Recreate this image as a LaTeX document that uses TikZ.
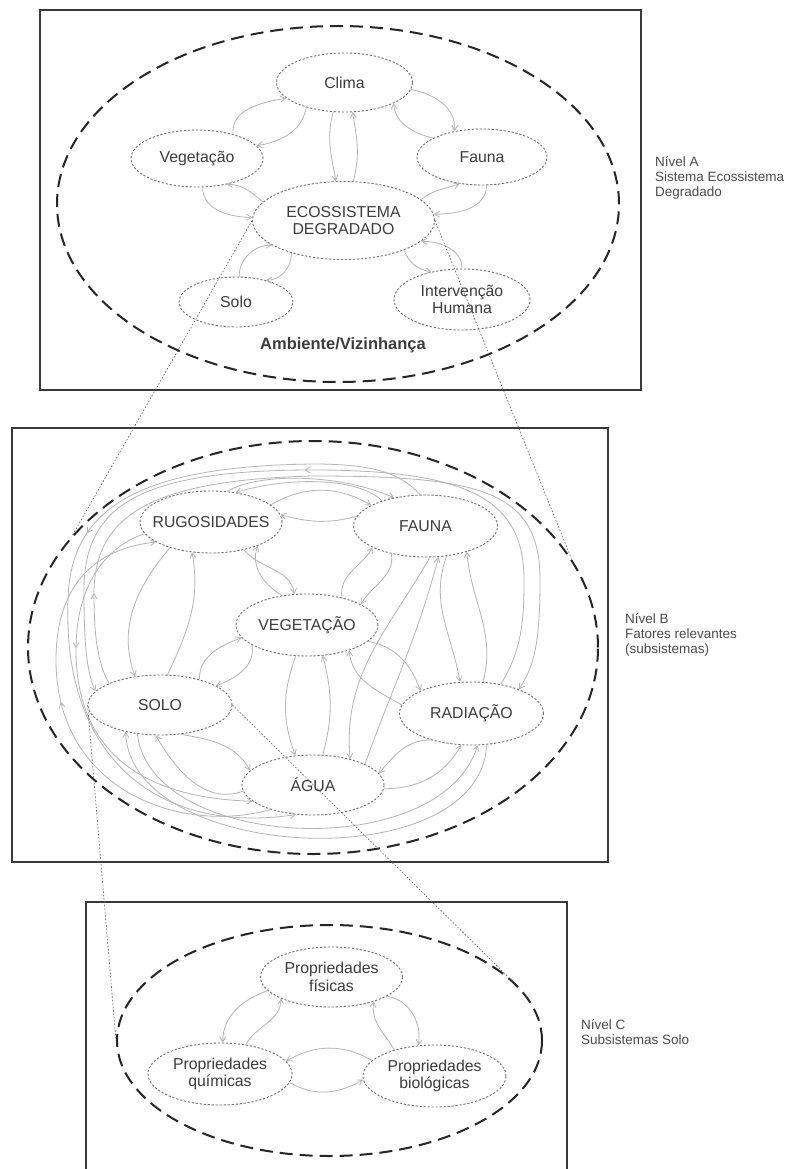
\documentclass[tikz,border=0pt]{standalone}
\usepackage{fontspec}
\setmainfont{Liberation Sans}
\usetikzlibrary{shapes.geometric,arrows.meta,decorations.markings}
\definecolor{boxc}{HTML}{3A3A3A}
\definecolor{ellc}{HTML}{262626}
\definecolor{ndc}{HTML}{6E6E6E}
\definecolor{arrc}{HTML}{B4B4B4}
\definecolor{txtc}{HTML}{3C3C3C}
\definecolor{sidec}{HTML}{4A4A4A}
\definecolor{zoomc}{HTML}{5A5A5A}
\begin{document}
\begin{tikzpicture}[x=1pt,y=1pt,
  nd/.style={ellipse, draw=ndc, line width=0.9pt, dash pattern=on 2.2pt off 1.8pt, inner sep=0pt},
  ndtxt/.style={text=txtc, font=\fontsize{15.8}{17.6}\selectfont, align=center, inner sep=0pt},
  bigell/.style={ellipse, draw=ellc, line width=2pt, dash pattern=on 13pt off 7pt, inner sep=0pt},
  boxframe/.style={draw=boxc, line width=1.6pt},
  arr/.style={draw=arrc, line width=0.8pt, -{Straight Barb[length=5pt,width=6pt]}},
  midarr/.style={postaction={decorate}, decoration={markings, mark=at position #1 with {\arrow{Straight Barb[length=5pt,width=6pt]}}}},
  zoomline/.style={draw=zoomc, line width=0.6pt, dash pattern=on 1.6pt off 1.8pt},
  side/.style={anchor=west, align=left, text=sidec, inner sep=0pt, font=\fontsize{13.5}{15}\selectfont}
]
\useasboundingbox (0,0) rectangle (796,-1169);
\fill[white] (0,0) rectangle (796,-1169);

% ---------- frames ----------
\draw[boxframe] (40,-10) rectangle (641,-390);
\draw[boxframe] (12,-428) rectangle (608,-862);
\draw[boxframe] (86,-902) rectangle (567,-1190);

% ---------- big dashed ellipses ----------
\node[bigell, minimum width=562pt, minimum height=356pt] (E1) at (338,-204) {};
\node[bigell, minimum width=570pt, minimum height=413pt] (E2) at (313,-647.5) {};
\node[bigell, minimum width=425pt, minimum height=231pt] (E3) at (329.5,-1040.5) {};

% ---------- level A ----------
\node[nd, minimum width=136pt, minimum height=59pt, label={[ndtxt]center:Clima}] (clima) at (344.5,-82.5) {};
\node[nd, minimum width=132pt, minimum height=57pt, label={[ndtxt]center:Vegetação}] (veg) at (197,-158.5) {};
\node[nd, minimum width=130pt, minimum height=56pt, label={[ndtxt]center:Fauna}] (fau) at (482,-157) {};
\node[nd, minimum width=182pt, minimum height=78pt, label={[ndtxt]center:ECOSSISTEMA\\DEGRADADO}] (eco) at (343.5,-220.5) {};
\node[nd, minimum width=114pt, minimum height=50pt, label={[ndtxt]center:Solo}] (solo) at (236,-302) {};
\node[nd, minimum width=136pt, minimum height=61pt, label={[ndtxt]center:Intervenção\\Humana}] (int) at (462,-299.5) {};
\node[text=txtc, font=\bfseries\fontsize{16.5}{18}\selectfont] (amb) at (343,-345) {Ambiente/Vizinhança};

\draw[arr] (veg.34) to[out=95,in=190] (clima.195);
\draw[arr] (clima.213) to[out=260,in=10] (veg.12);
\draw[arr] (clima.249) to[out=255,in=100] (eco.101);
\draw[arr] (eco.76) to[out=75,in=-80] (clima.285);
\draw[arr] (clima.354) to[out=-10,in=85] (fau.137);
\draw[arr] (fau.159) to[out=165,in=-85] (clima.337);
\draw[arr] (veg.281) to[out=-90,in=180] (eco.178);
\draw[arr] (eco.167) to[out=140,in=0] (veg.319);
\draw[arr] (eco.15) to[out=40,in=200] (fau.230);
\draw[arr] (fau.279) to[out=-90,in=0] (eco.4);
\draw[arr] (solo.83) to[out=90,in=180] (eco.199);
\draw[arr] (eco.212) to[out=-90,in=0] (solo.36);
\draw[arr] (eco.334) to[out=-70,in=170] (int.138);
\draw[arr] (int.90) to[out=90,in=0] (eco.345);

% ---------- level B ----------
\node[nd, minimum width=142pt, minimum height=62pt, label={[ndtxt]center:RUGOSIDADES}] (rug) at (211,-522) {};
\node[nd, minimum width=144pt, minimum height=62pt, label={[ndtxt]center:FAUNA}] (fau2) at (425.5,-526) {};
\node[nd, minimum width=142pt, minimum height=62pt, label={[ndtxt]center:VEGETAÇÃO}] (veg2) at (307,-625) {};
\node[nd, minimum width=144pt, minimum height=60pt, label={[ndtxt]center:SOLO}] (sol) at (160,-705) {};
\node[nd, minimum width=144pt, minimum height=63pt, label={[ndtxt]center:RADIAÇÃO}] (rad) at (471.5,-713.5) {};
\node[nd, minimum width=142pt, minimum height=60pt, label={[ndtxt]center:ÁGUA}] (agu) at (313,-785) {};

\draw[arr] (rug.16) to[out=30,in=150] (fau2.159);
\draw[arr] (fau2.172) to[out=195,in=-15] (rug.6);
\draw[arr] (rug.320) to[out=-50,in=100] (veg2.112);
\draw[arr] (veg2.130) to[out=150,in=250] (rug.333);
\draw[arr] (veg2.38) to[out=100,in=240] (fau2.202);
\draw[arr] (fau2.219) to[out=-80,in=60] (veg2.21);
\draw[arr] (rug.212) to[out=230,in=110] (sol.131);
\draw[arr] (sol.76) to[out=65,in=-80] (rug.238);
\draw[arr] (sol.33) to[out=90,in=200] (veg2.191);
\draw[arr] (veg2.200) to[out=-80,in=20] (sol.19);
\draw[arr] (veg2.250) to[out=250,in=110] (agu.121);
\draw[arr] (agu.72) to[out=75,in=-75] (veg2.297);
\draw[arr] (veg2.345) to[out=-10,in=110] (rad.156);
\draw[arr] (rad.173) to[out=150,in=-85] (veg2.329);
\draw[arr] (fau2.305) to[out=250,in=100] (rad.110);
\draw[arr] (rad.70) to[out=75,in=-85] (fau2.328);
\draw[arr] (fau2.278) to[out=240,in=95] (agu.35);
\draw[arr] (agu.22) to[out=70,in=255] (fau2.293);
\draw[arr] (sol.305) to[out=-10,in=120] (agu.167);
\draw[arr] (agu.185) to[out=200,in=-60] (sol.262);
\draw[arr] (rad.213) to[out=180,in=50] (agu.10);
\draw[arr] (agu.357) to[out=0,in=240] (rad.252);
% long connectors under AGUA
\draw[arr] (sol.232) .. controls (150,-850) and (440,-865) .. (rad.281);
\draw[arr] (rad.296) .. controls (480,-880) and (130,-862) .. (sol.218);
% upper arcs RUG - FAUNA
\draw[arr] (fau2.150) .. controls (360,-478) and (290,-476) .. (rug.50);
\draw[arr] (rug.62) .. controls (260,-472) and (340,-474) .. (fau2.138);
% outer loops
\draw[arr, midarr=0.12] (sol.157) .. controls (96,-660) and (94,-630) .. (94,-590) .. controls (96,-515) and (152,-480) .. (313,-476) .. controls (480,-476) and (540,-490) .. (540,-580) .. controls (540,-640) and (535,-665) .. (rad.27);
\draw[arr, midarr=0.5] (rad.45) .. controls (522,-650) and (524,-620) .. (524,-580) .. controls (524,-500) and (470,-470) .. (313,-470) .. controls (140,-470) and (84,-505) .. (84,-590) .. controls (84,-640) and (86,-670) .. (sol.168);
\draw[arr, midarr=0.45] (fau2.100) .. controls (400,-472) and (370,-464) .. (313,-464) .. controls (135,-466) and (70,-510) .. (68,-600) .. controls (62,-760) and (160,-835) .. (agu.240);
\draw[arr, midarr=0.35] (rug.190) .. controls (110,-545) and (76,-580) .. (76,-650) .. controls (76,-750) and (140,-798) .. (agu.195);
\draw[arr, midarr=0.55] (agu.210) .. controls (180,-835) and (56,-790) .. (56,-660) .. controls (56,-580) and (100,-548) .. (rug.200);

% ---------- level C ----------
\node[nd, minimum width=142pt, minimum height=60pt, label={[ndtxt]center:Propriedades\\físicas}] (fis) at (331.5,-977) {};
\node[nd, minimum width=144pt, minimum height=62pt, label={[ndtxt]center:Propriedades\\químicas}] (qui) at (220,-1074) {};
\node[nd, minimum width=143pt, minimum height=62pt, label={[ndtxt]center:Propriedades\\biológicas}] (bio) at (434.5,-1076) {};

\draw[arr] (qui.49) to[out=60,in=-90] (fis.203);
\draw[arr] (fis.192) to[out=200,in=90] (qui.85);
\draw[arr] (fis.341) to[out=-10,in=80] (bio.118);
\draw[arr] (bio.147) to[out=120,in=-100] (fis.330);
\draw[arr] (bio.166) to[out=150,in=30] (qui.11);
\draw[arr] (qui.353) to[out=-30,in=210] (bio.183);

% ---------- zoom lines ----------
\draw[zoomline] (eco.west) -- (E2.155);
\draw[zoomline] (eco.east) -- (E2.19);
\draw[zoomline] (sol.west) -- (E3.180);
\draw[zoomline] (sol.east) -- (E3.20);

% ---------- side labels ----------
\node[side] (na) at (655,-178) {Nível A\\Sistema Ecossistema\\Degradado};
\node[side] (nb) at (625,-635) {Nível B\\Fatores relevantes\\(subsistemas)};
\node[side] (nc) at (581,-1032) {Nível C\\Subsistemas Solo};
\end{tikzpicture}
\end{document}
